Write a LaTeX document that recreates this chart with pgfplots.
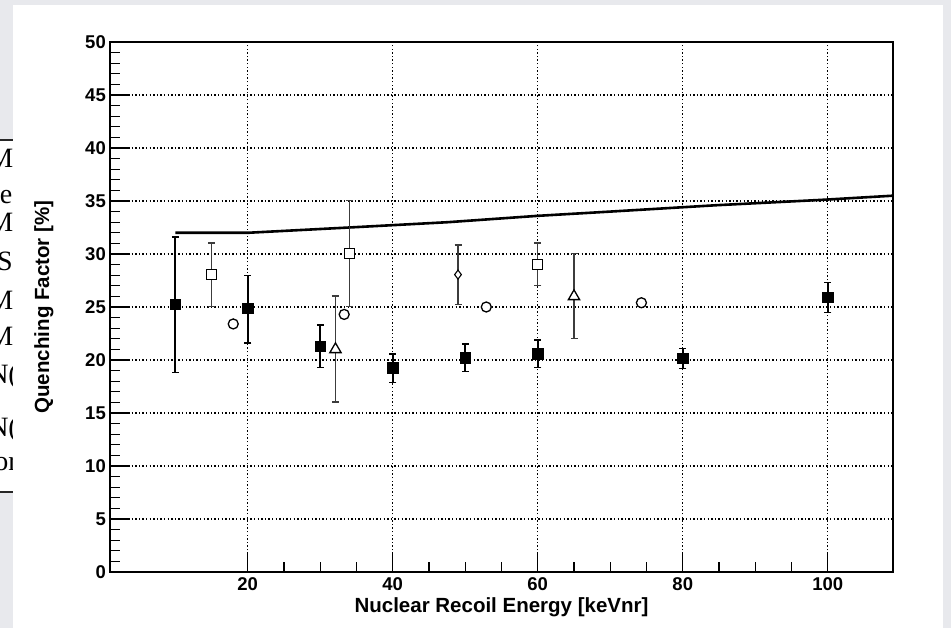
\documentclass[border=0pt]{standalone}
\usepackage{pgfplots}
\pgfplotsset{compat=1.18}
\usepackage{fontspec}
\setmainfont{Liberation Sans}
\newfontfamily\seriffont{Liberation Serif}
\definecolor{bggray}{RGB}{232,233,237}
\definecolor{bargray}{RGB}{60,60,60}

\pgfplotstableread{
x y ep em
10 25.25 6.35 6.45
20 24.9 3.1 3.3
30 21.3 2.0 2.0
40 19.25 1.32 1.39
50 20.2 1.3 1.3
60 20.6 1.3 1.3
80 20.15 0.95 0.95
100 25.9 1.4 1.4
}\filledsq
\pgfplotstableread{
x y ep em
15 28.05 3.0 3.0
34 30.05 5.0 5.0
60 29.0 2.05 2.0
}\opensq
\pgfplotstableread{
x y
18 23.4
33.3 24.3
52.9 25.0
74.3 25.4
}\opencirc
\pgfplotstableread{
x y ep em
32.1 21.0 5.05 4.95
65 26.0 4.05 3.95
}\opentri
\pgfplotstableread{
x y ep em
49 28.05 2.8 2.8
}\opendia
\pgfplotstableread{
x y
10 32.0
20 32.0
34 32.5
47.6 33.0
60 33.6
70 34.0
84.6 34.6
99 35.1
109 35.5
}\curve

\begin{document}
\begin{tikzpicture}
\useasboundingbox (0pt,0pt) rectangle (951pt,628pt);
\fill[bggray] (0pt,0pt) rectangle (951pt,628pt);
% partially hidden table behind the canvas
\begin{scope}
\clip (0pt,135pt) rectangle (13pt,489pt);
\fill[white] (0pt,136pt) rectangle (13pt,488pt);
\draw[line width=1.5pt, black!85] (0pt,488pt) -- (13pt,488pt);
\draw[line width=1.5pt, black!85] (0pt,136pt) -- (13pt,136pt);
\begin{scope}[every node/.style={inner sep=0pt, font=\seriffont\fontsize{28}{28}\selectfont}]
\node[anchor=base east] at (13.5pt,460pt) {M};
\node[anchor=base east] at (12.5pt,424pt) {e};
\node[anchor=base east] at (13.5pt,396pt) {M};
\node[anchor=base east] at (13pt,357pt) {S};
\node[anchor=base east] at (13.5pt,318pt) {M};
\node[anchor=base east] at (13.5pt,282pt) {M};
\node[anchor=base east] at (18pt,244pt) {N(};
\node[anchor=base east] at (18pt,191pt) {N(};
\node[anchor=base east] at (18pt,157pt) {or};
\end{scope}
\end{scope}
\fill[white] (13pt,0pt) rectangle (943pt,623pt);
\begin{axis}[
  at={(110pt,56pt)}, anchor=south west,
  width=783pt, height=530pt, scale only axis,
  xmin=1, xmax=109, ymin=0, ymax=50,
  xtick={20,40,60,80,100}, minor x tick num=3,
  ytick={0,5,...,50}, minor y tick num=4,
  tick align=inside, xtick pos=bottom, ytick pos=left,
  major tick length=20pt, minor tick length=10pt,
  every tick/.style={black, line width=1.1pt},
  axis line style={line width=1.6pt},
  grid=major,
  major grid style={black, line width=1.2pt, dash pattern=on 1.4pt off 2.2pt},
  /pgf/number format/assume math mode=true,
  tick label style={font=\fontsize{18.5}{18.5}\selectfont\bfseries},
  yticklabel style={inner sep=0pt, xshift=-4pt},
  xticklabel style={inner sep=0pt, yshift=-5pt},
  xlabel={Nuclear Recoil Energy [keVnr]},
  ylabel={Quenching Factor [\%]},
  label style={font=\fontsize{20.5}{20.5}\selectfont\bfseries},
  xlabel style={at={(axis description cs:0.5,-0.066)}, anchor=center, inner sep=0pt},
  ylabel style={at={(axis description cs:-0.0843,0.5)}, anchor=center, rotate=0, inner sep=0pt},
  clip=false,
]
\addplot[black, line width=2.6pt, no marks] table[x=x,y=y] {\curve};

\addplot[only marks, mark=square*, mark size=5.2pt, mark options={fill=black, draw=black, line width=0.5pt},
  error bars/.cd, y dir=both, y explicit,
  error bar style={black, line width=1.6pt},
  error mark options={black, line width=1.3pt, mark size=3.5pt, rotate=90}]
  table[x=x,y=y,y error plus=ep,y error minus=em] {\filledsq};

\addplot[only marks, mark=square*, mark size=5pt, mark options={fill=white, draw=black, line width=1.3pt},
  error bars/.cd, y dir=both, y explicit,
  error bar style={bargray, line width=1.3pt},
  error mark options={bargray, line width=1.3pt, mark size=3.5pt, rotate=90}]
  table[x=x,y=y,y error plus=ep,y error minus=em] {\opensq};

\addplot[only marks, mark=*, mark size=5pt, mark options={fill=white, draw=black, line width=1.3pt}]
  table[x=x,y=y] {\opencirc};

\addplot[only marks, mark=triangle*, mark size=6.5pt, mark options={fill=white, draw=black, line width=1.3pt},
  error bars/.cd, y dir=both, y explicit,
  error bar style={bargray, line width=1.3pt},
  error mark options={bargray, line width=1.3pt, mark size=3.5pt, rotate=90}]
  table[x=x,y=y,y error plus=ep,y error minus=em] {\opentri};

\addplot[only marks, mark=diamond*, mark size=4.5pt, mark options={fill=white, draw=black, line width=1.1pt},
  error bars/.cd, y dir=both, y explicit,
  error bar style={bargray, line width=1.3pt},
  error mark options={bargray, line width=1.3pt, mark size=3.5pt, rotate=90}]
  table[x=x,y=y,y error plus=ep,y error minus=em] {\opendia};
\end{axis}
\end{tikzpicture}
\end{document}
